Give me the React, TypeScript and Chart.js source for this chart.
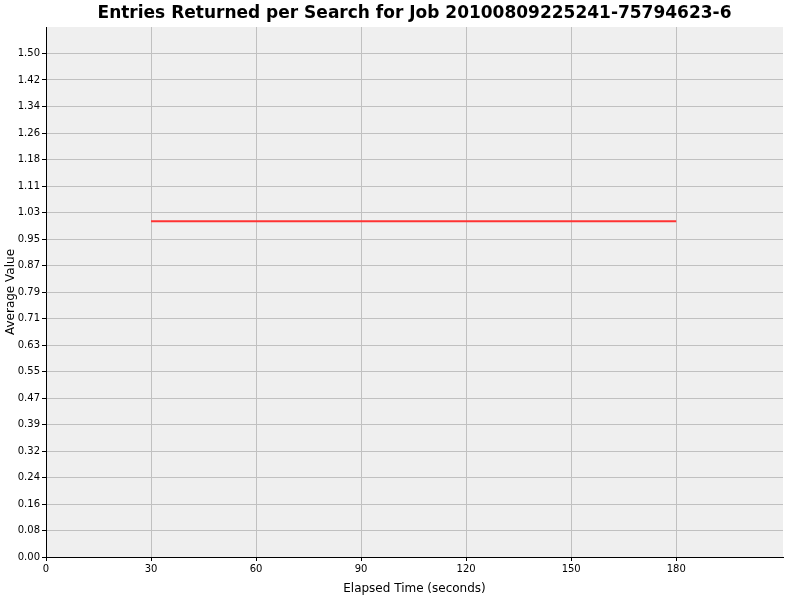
import { useEffect, useRef } from 'react';
import { Chart, registerables } from 'chart.js';

Chart.register(...registerables);

const chartTitle = 'Entries Returned per Search for Job 20100809225241-75794623-6';
const elapsedSeconds = [30, 60, 90, 120, 150, 180];
const averageValues = [1.0, 1.0, 1.0, 1.0, 1.0, 1.0];
const xTickValues = [0, 30, 60, 90, 120, 150, 180];
// JFreeChart-style y ticks: 1.5 split into 19 steps
const yStep = 1.5 / 19;
const yTickValues = Array.from({ length: 20 }, (_, k) => k * yStep);

const plotBackground = {
    id: 'plotBackground',
    beforeDraw: (chart: any) => {
        const { ctx, chartArea } = chart;
        ctx.save();
        ctx.fillStyle = '#efefef';
        ctx.fillRect(chartArea.left, chartArea.top, chartArea.right - chartArea.left, chartArea.bottom - chartArea.top);
        ctx.restore();
    }
};

// title centred over the plot area, not the whole canvas
const plotTitle = {
    id: 'plotTitle',
    afterDraw: (chart: any) => {
        const { ctx, chartArea } = chart;
        ctx.save();
        ctx.fillStyle = '#000';
        ctx.font = 'bold 17px "DejaVu Sans"';
        ctx.textAlign = 'center';
        ctx.textBaseline = 'middle';
        ctx.fillText(chartTitle, (chartArea.left + chartArea.right) / 2, 14);
        ctx.restore();
    }
};

const App = () => {
    const canvasRef = useRef<HTMLCanvasElement | null>(null);

    useEffect(() => {
        document.body.style.margin = '0';
        if (!canvasRef.current) return;

        const chart = new Chart(canvasRef.current, {
            type: 'line',
            data: {
                datasets: [{
                    label: 'Average Value',
                    data: elapsedSeconds.map((x, i) => ({ x, y: averageValues[i] })),
                    borderColor: '#ff3333',
                    borderWidth: 2,
                    pointRadius: 0,
                    tension: 0,
                }]
            },
            options: {
                responsive: false,
                animation: false,
                layout: { padding: { left: 0, right: 17, top: 27, bottom: 0 } },
                plugins: {
                    legend: { display: false },
                    tooltip: { enabled: false },
                    title: { display: false },
                },
                scales: {
                    x: {
                        type: 'linear',
                        min: 0,
                        max: 210.5,
                        afterBuildTicks: (scale: any) => {
                            scale.ticks = xTickValues.map((v) => ({ value: v }));
                        },
                        afterFit: (scale: any) => { scale.height = 43; },
                        grid: { color: '#c0c0c0', tickColor: '#000', tickLength: 4, lineWidth: 1 },
                        border: { color: '#000', width: 1 },
                        ticks: {
                            color: '#000',
                            font: { family: 'DejaVu Sans', size: 10 },
                            padding: 2,
                            maxRotation: 0,
                        },
                        title: {
                            display: true,
                            text: 'Elapsed Time (seconds)',
                            color: '#000',
                            font: { family: 'DejaVu Sans', size: 12 },
                            padding: { top: 4, bottom: 4 },
                        },
                    },
                    y: {
                        type: 'linear',
                        min: 0,
                        max: 20 * yStep,
                        afterBuildTicks: (scale: any) => {
                            scale.ticks = yTickValues.map((v) => ({ value: v }));
                        },
                        afterFit: (scale: any) => { scale.width = 46; },
                        grid: { color: '#c0c0c0', tickColor: '#000', tickLength: 4, lineWidth: 1 },
                        border: { color: '#000', width: 1 },
                        ticks: {
                            color: '#000',
                            font: { family: 'DejaVu Sans', size: 10 },
                            padding: 2,
                            callback: (v: any) => Number(v).toFixed(2),
                        },
                        title: {
                            display: true,
                            text: 'Average Value',
                            color: '#000',
                            font: { family: 'DejaVu Sans', size: 12 },
                            padding: { top: 4, bottom: 4 },
                        },
                    },
                },
            },
            plugins: [plotBackground, plotTitle],
        });

        return () => {
            chart.destroy();
        };
    }, []);

    return <canvas ref={canvasRef} width={800} height={600} style={{ display: 'block' }}></canvas>;
};

export default App;
